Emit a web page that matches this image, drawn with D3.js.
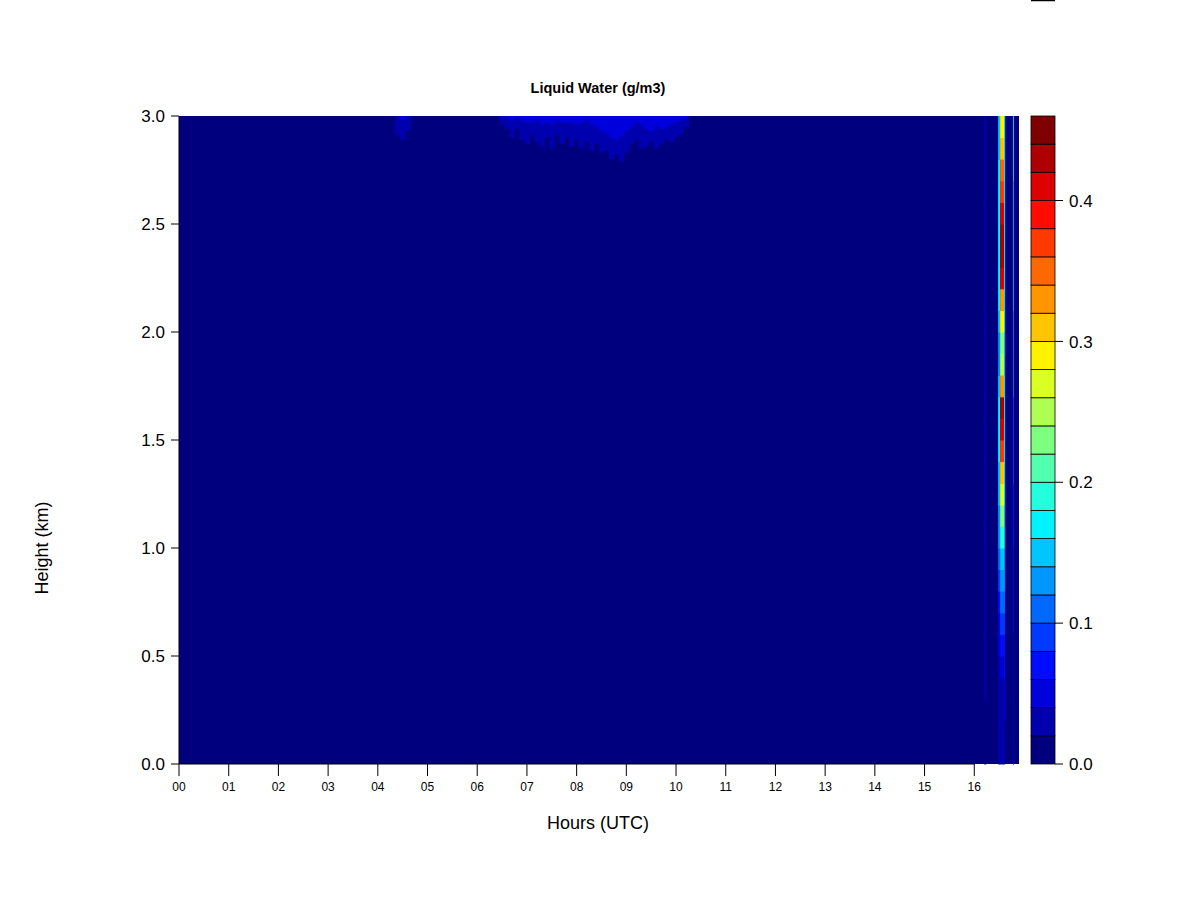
<!DOCTYPE html>
<html>
<head>
<meta charset="utf-8">
<script src="https://cdn.jsdelivr.net/npm/d3@7"></script>
<style>
  body { margin: 0; background: #fff; }
  text { font-family: "Liberation Sans", Arial, sans-serif; }
</style>
</head>
<body>
<svg id="chart"></svg>
<script>
// tick labels and contour levels
const hourTicks = ["00","01","02","03","04","05","06","07","08","09","10","11","12","13","14","15","16"];
const heightTicks = [0.0, 0.5, 1.0, 1.5, 2.0, 2.5, 3.0];
const barTicks = [0.0, 0.1, 0.2, 0.3, 0.4];
const levels = [0.00,0.02,0.04,0.06,0.08,0.10,0.12,0.14,0.16,0.18,0.20,0.22,0.24,0.26,0.28,0.30,0.32,0.34,0.36,0.38,0.40,0.42,0.44,0.46];
const jetStops = ["#00007F","#0000FF","#007FFF","#00FFFF","#7FFF7F","#FFFF00","#FF7F00","#FF0000","#7F0000"];

// thin cloud near the top of the range (hour, outer depth below 3 km, bright core depth)
const capHour  = [4.4,4.5,4.6, 6.5,6.6,6.7,6.8,6.9,7.0,7.1,7.2,7.3,7.4,7.5,7.6,7.7,7.8,7.9,8.0,8.1,8.2,8.3,8.4,8.5,8.6,8.7,8.8,8.9,9.0,9.1,9.2,9.3,9.4,9.5,9.6,9.7,9.8,9.9,10.0,10.1,10.2];
const capDepth = [0.09,0.11,0.07, 0.04,0.06,0.10,0.06,0.11,0.13,0.09,0.12,0.14,0.10,0.15,0.09,0.13,0.10,0.14,0.11,0.15,0.12,0.16,0.13,0.17,0.16,0.20,0.18,0.21,0.17,0.13,0.11,0.15,0.14,0.12,0.15,0.13,0.11,0.12,0.10,0.08,0.05];
const capCore  = [0.00,0.02,0.00, 0.00,0.01,0.02,0.01,0.02,0.03,0.03,0.02,0.04,0.03,0.04,0.02,0.03,0.03,0.03,0.04,0.03,0.02,0.04,0.05,0.07,0.08,0.10,0.11,0.09,0.07,0.05,0.03,0.04,0.06,0.07,0.05,0.06,0.05,0.04,0.03,0.02,0.01];
const capOuterValue = 0.025;
const capCoreValue = 0.045;

// late-day cloud columns: hour span and liquid water for each 0.1 km layer (0-0.1 km first)
const stripeStart = [16.20, 16.48, 16.52, 16.60, 16.78];
const stripeEnd   = [16.24, 16.52, 16.60, 16.62, 16.80];
const stripeFaint = [0.00,0.00,0.00,0.02,0.02,0.02,0.02,0.02,0.02,0.02,0.02,0.02,0.02,0.02,0.02,0.02,0.02,0.02,0.02,0.02,0.02,0.02,0.02,0.02,0.02,0.02,0.02,0.02,0.02,0.02];
const stripeEdgeL = [0.02,0.02,0.02,0.03,0.03,0.04,0.05,0.06,0.08,0.10,0.12,0.13,0.14,0.15,0.16,0.17,0.17,0.15,0.13,0.13,0.15,0.16,0.17,0.17,0.17,0.17,0.16,0.16,0.15,0.15];
const stripeCore  = [0.02,0.02,0.03,0.03,0.04,0.06,0.08,0.10,0.13,0.15,0.19,0.22,0.27,0.31,0.36,0.41,0.42,0.33,0.24,0.22,0.28,0.33,0.40,0.42,0.43,0.41,0.37,0.34,0.30,0.29];
const stripeEdgeR = [0.02,0.03,0.04,0.05,0.06,0.07,0.08,0.10,0.12,0.13,0.14,0.15,0.16,0.16,0.16,0.17,0.17,0.16,0.15,0.15,0.16,0.16,0.17,0.17,0.17,0.17,0.16,0.16,0.16,0.16];
const stripeLate  = [0.02,0.02,0.02,0.03,0.03,0.03,0.04,0.04,0.05,0.05,0.06,0.06,0.07,0.08,0.08,0.09,0.09,0.10,0.10,0.11,0.11,0.12,0.12,0.12,0.13,0.13,0.13,0.14,0.14,0.14];
const stripeProfiles = [stripeFaint, stripeEdgeL, stripeCore, stripeEdgeR, stripeLate];
const layerKm = 0.1;

const width = 1200, height = 900;
const svg = d3.select("#chart").attr("width", width).attr("height", height);

const x = d3.scaleLinear().domain([0, 16.9]).range([179, 1019]);
const y = d3.scaleLinear().domain([0, 3]).range([764, 116]);
const yBar = d3.scaleLinear().domain([0, 0.46]).range([764, 116]);

// jet palette, one colour per level band
const ramp = d3.scaleLinear()
    .domain(jetStops.map((d, i) => i / (jetStops.length - 1)))
    .range(jetStops)
    .interpolate(d3.interpolateRgb);
const nBands = levels.length - 1;
const bandColors = d3.range(nBands).map(i => ramp(i / (nBands - 1)));
function colorOf(v) {
    var i = Math.floor(v / 0.02 + 1e-9);
    i = Math.max(0, Math.min(nBands - 1, i));
    return bandColors[i];
}

// background field (zero liquid water)
const field = svg.append("g").attr("class", "field");
field.append("rect")
    .attr("x", x(0)).attr("y", y(3))
    .attr("width", x(16.9) - x(0)).attr("height", y(0) - y(3))
    .attr("fill", colorOf(0));

// top cloud
const capData = capHour.map((h, i) => ({h: h, depth: capDepth[i], core: capCore[i]}));
field.selectAll("rect.outer").data(capData.filter(d => d.depth > 0)).enter()
    .append("rect").attr("class", "outer")
    .attr("x", d => x(d.h - 0.05)).attr("y", y(3))
    .attr("width", d => x(d.h + 0.05) - x(d.h - 0.05) + 0.5)
    .attr("height", d => y(3 - d.depth) - y(3))
    .attr("fill", colorOf(capOuterValue));
field.selectAll("rect.core").data(capData.filter(d => d.core > 0)).enter()
    .append("rect").attr("class", "core")
    .attr("x", d => x(d.h - 0.05)).attr("y", y(3))
    .attr("width", d => x(d.h + 0.05) - x(d.h - 0.05) + 0.5)
    .attr("height", d => y(3 - d.core) - y(3))
    .attr("fill", colorOf(capCoreValue));

// late-day columns
const cells = [];
stripeProfiles.forEach((prof, j) => {
    prof.forEach((v, k) => {
        cells.push({x0: stripeStart[j], x1: stripeEnd[j], h0: k * layerKm, h1: (k + 1) * layerKm, v: v});
    });
});
field.selectAll("rect.cell").data(cells).enter()
    .append("rect").attr("class", "cell")
    .attr("x", d => x(d.x0)).attr("y", d => y(d.h1))
    .attr("width", d => x(d.x1) - x(d.x0))
    .attr("height", d => y(d.h0) - y(d.h1) + 0.5)
    .attr("fill", d => colorOf(d.v));

// axes
const xAxis = svg.append("g").attr("transform", "translate(0,764)");
xAxis.append("line").attr("x1", x(0)).attr("x2", x(16)).attr("y1", 0).attr("y2", 0).attr("stroke", "#000");
xAxis.selectAll("line.tick").data(hourTicks).enter().append("line").attr("class", "tick")
    .attr("x1", (d, i) => x(i)).attr("x2", (d, i) => x(i))
    .attr("y1", 0).attr("y2", 12).attr("stroke", "#000");
xAxis.selectAll("text").data(hourTicks).enter().append("text")
    .attr("x", (d, i) => x(i)).attr("y", 27)
    .attr("text-anchor", "middle").attr("font-size", 12).text(d => d);

const yAxis = svg.append("g");
yAxis.append("line").attr("x1", x(0)).attr("x2", x(0)).attr("y1", y(0)).attr("y2", y(3)).attr("stroke", "#000");
yAxis.selectAll("line.tick").data(heightTicks).enter().append("line").attr("class", "tick")
    .attr("x1", x(0) - 8).attr("x2", x(0))
    .attr("y1", d => y(d)).attr("y2", d => y(d)).attr("stroke", "#000");
yAxis.selectAll("text").data(heightTicks).enter().append("text")
    .attr("x", x(0) - 14).attr("y", d => y(d))
    .attr("dy", "0.36em").attr("text-anchor", "end").attr("font-size", 17)
    .text(d => d.toFixed(1));

// colour key
const key = svg.append("g");
key.selectAll("rect").data(d3.range(nBands)).enter().append("rect")
    .attr("x", 1031).attr("width", 24)
    .attr("y", i => yBar(levels[i + 1])).attr("height", i => yBar(levels[i]) - yBar(levels[i + 1]))
    .attr("fill", i => bandColors[i]).attr("stroke", "#000").attr("stroke-width", 0.8);
key.selectAll("line.tick").data(barTicks).enter().append("line").attr("class", "tick")
    .attr("x1", 1055).attr("x2", 1063)
    .attr("y1", d => yBar(d)).attr("y2", d => yBar(d)).attr("stroke", "#000");
key.selectAll("text").data(barTicks).enter().append("text")
    .attr("x", 1069).attr("y", d => yBar(d))
    .attr("dy", "0.36em").attr("font-size", 17)
    .text(d => d.toFixed(1));
key.append("line").attr("x1", 1031).attr("x2", 1055).attr("y1", 0.5).attr("y2", 0.5)
    .attr("stroke", "#000").attr("stroke-width", 1.5);

// titles
svg.append("text").attr("x", 598).attr("y", 93).attr("text-anchor", "middle")
    .attr("font-size", 14.5).attr("font-weight", "bold").text("Liquid Water (g/m3)");
svg.append("text").attr("x", 598).attr("y", 829).attr("text-anchor", "middle")
    .attr("font-size", 18).text("Hours (UTC)");
svg.append("text").attr("transform", "translate(48,548) rotate(-90)").attr("text-anchor", "middle")
    .attr("font-size", 18).text("Height (km)");
</script>
</body>
</html>
